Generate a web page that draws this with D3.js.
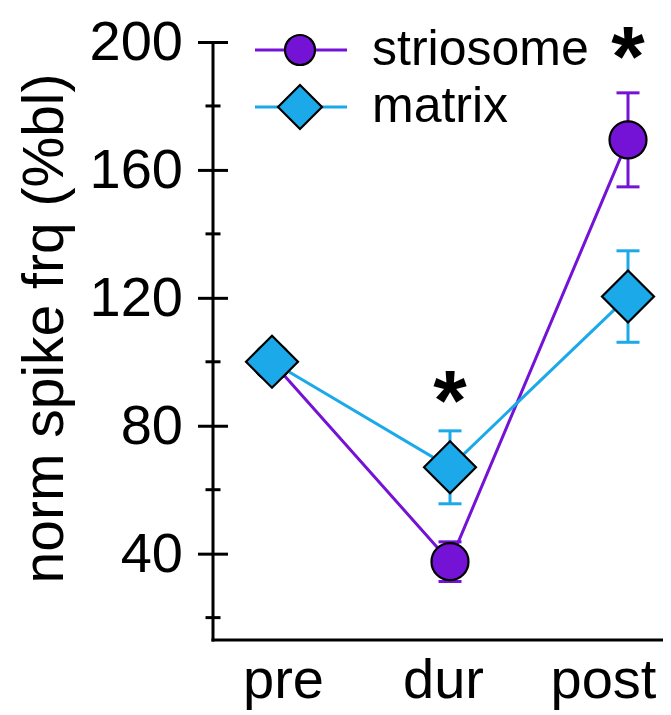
<!DOCTYPE html>
<html>
<head>
<meta charset="utf-8">
<script src="https://cdn.jsdelivr.net/npm/d3@7"></script>
<style>
  body { margin: 0; background: #fff; }
  svg { display: block; font-family: "Liberation Sans", Arial, sans-serif; }
</style>
</head>
<body>
<script>
// data
const phases = ["pre", "dur", "post"];
const striosomeMean = [100, 37.5, 169.4];
const striosomeSem  = [0, 6.2, 14.7];
const matrixMean    = [100, 67, 120.4];
const matrixSem     = [0, 11.4, 14.3];
const yTicks = [40, 80, 120, 160, 200];
const yMinorTicks = [20, 60, 100, 140, 180];
const sigMarks = [{phase: "dur", y: 94}, {phase: "post", y: 201.5}];
const yLabel = "norm spike frq (%bl)";

const width = 671, height = 715;
const purple = "#7412d6", cyan = "#1ba9e9";

const series = [
  {name: "striosome", mean: striosomeMean, sem: striosomeSem, color: purple, shape: "circle"},
  {name: "matrix", mean: matrixMean, sem: matrixSem, color: cyan, shape: "diamond"}
];

const svg = d3.select("body").append("svg")
  .attr("width", width)
  .attr("height", height);

// scales
const axisX = 213, axisBottomY = 640;
const x = d3.scalePoint(phases, [272, 628]);
const xLab = d3.scalePoint(phases, [283, 603]);
const y = d3.scaleLinear([13, 200], [axisBottomY, 42]);

// y axis, major ticks crossing the line
const gy = svg.append("g")
  .attr("transform", `translate(${axisX},0)`)
  .call(d3.axisLeft(y).tickValues(yTicks).tickSize(15).tickPadding(15).tickSizeOuter(0))
  .call(g => g.select(".domain").remove())
  .call(g => g.selectAll(".tick line").attr("stroke-width", 3).clone().attr("x2", 15))
  .call(g => g.selectAll(".tick text").attr("font-size", 56).attr("font-family", "Liberation Sans, Arial, sans-serif").attr("fill", "#000"));

gy.selectAll(".minor")
  .data(yMinorTicks)
  .join("line")
  .attr("class", "minor")
  .attr("x1", -7.5).attr("x2", 7.5)
  .attr("y1", d => y(d)).attr("y2", d => y(d))
  .attr("stroke", "#000").attr("stroke-width", 3);

gy.append("line")
  .attr("x1", 0).attr("x2", 0)
  .attr("y1", y(200)).attr("y2", axisBottomY + 1.5)
  .attr("stroke", "#000").attr("stroke-width", 3);

// x axis
svg.append("line")
  .attr("x1", axisX - 1.5).attr("x2", 663)
  .attr("y1", axisBottomY).attr("y2", axisBottomY)
  .attr("stroke", "#000").attr("stroke-width", 3);

svg.append("g")
  .attr("transform", `translate(0,${axisBottomY})`)
  .call(d3.axisBottom(xLab).tickSize(0).tickPadding(0))
  .call(g => g.select(".domain").remove())
  .call(g => g.selectAll(".tick text")
    .attr("y", 58).attr("dy", 0)
    .attr("font-size", 56)
    .attr("font-family", "Liberation Sans, Arial, sans-serif")
    .attr("fill", "#000"));

// y label
svg.append("text")
  .attr("transform", `translate(63,${(585 + 72) / 2}) rotate(-90)`)
  .attr("text-anchor", "middle")
  .attr("font-size", 57)
  .text(yLabel);

// connecting lines
const line = d3.line().x((d, i) => x(phases[i])).y(d => y(d));
svg.append("g")
  .selectAll("path")
  .data(series)
  .join("path")
  .attr("d", d => line(d.mean))
  .attr("fill", "none")
  .attr("stroke", d => d.color)
  .attr("stroke-width", 3);

// error bars
const cap = 11.5;
series.forEach(s => {
  const g = svg.append("g").attr("stroke", s.color).attr("stroke-width", 3);
  s.mean.forEach((m, i) => {
    if (!s.sem[i]) return;
    const cx = x(phases[i]), top = y(m + s.sem[i]), bot = y(m - s.sem[i]);
    g.append("line").attr("x1", cx).attr("x2", cx).attr("y1", top).attr("y2", bot);
    g.append("line").attr("x1", cx - cap).attr("x2", cx + cap).attr("y1", top).attr("y2", top);
    g.append("line").attr("x1", cx - cap).attr("x2", cx + cap).attr("y1", bot).attr("y2", bot);
  });
});

// markers
function drawMarker(g, shape, size, color) {
  if (shape === "circle") {
    g.append("circle").attr("r", size).attr("fill", color);
  } else {
    g.append("path")
      .attr("d", `M0,${-size}L${size},0L0,${size}L${-size},0Z`)
      .attr("fill", color);
  }
  g.attr("stroke", "#000").attr("stroke-width", 2.2);
}

// striosome first so matrix sits on top at "pre"
series.forEach(s => {
  svg.append("g")
    .selectAll("g")
    .data(s.mean)
    .join("g")
    .attr("transform", (d, i) => `translate(${x(phases[i])},${y(d)})`)
    .each(function () {
      drawMarker(d3.select(this), s.shape, s.shape === "circle" ? 18.5 : 26, s.color);
    });
});

// significance asterisks
svg.append("g")
  .selectAll("text")
  .data(sigMarks)
  .join("text")
  .attr("x", d => x(d.phase))
  .attr("y", d => y(d.y))
  .attr("dy", "0.57em")
  .attr("text-anchor", "middle")
  .attr("font-size", 86)
  .attr("font-weight", "bold")
  .text("*");

// legend
const legend = svg.append("g");
series.forEach((s, i) => {
  const ly = 50 + i * 57;
  const g = legend.append("g").attr("transform", `translate(0,${ly})`);
  g.append("line")
    .attr("x1", 255).attr("x2", 347)
    .attr("stroke", s.color).attr("stroke-width", 3);
  const m = g.append("g").attr("transform", "translate(300,0)");
  drawMarker(m, s.shape, s.shape === "circle" ? 15 : 22, s.color);
  g.append("text")
    .attr("x", 372).attr("y", 15)
    .attr("font-size", 50)
    .text(s.name);
});
</script>
</body>
</html>
